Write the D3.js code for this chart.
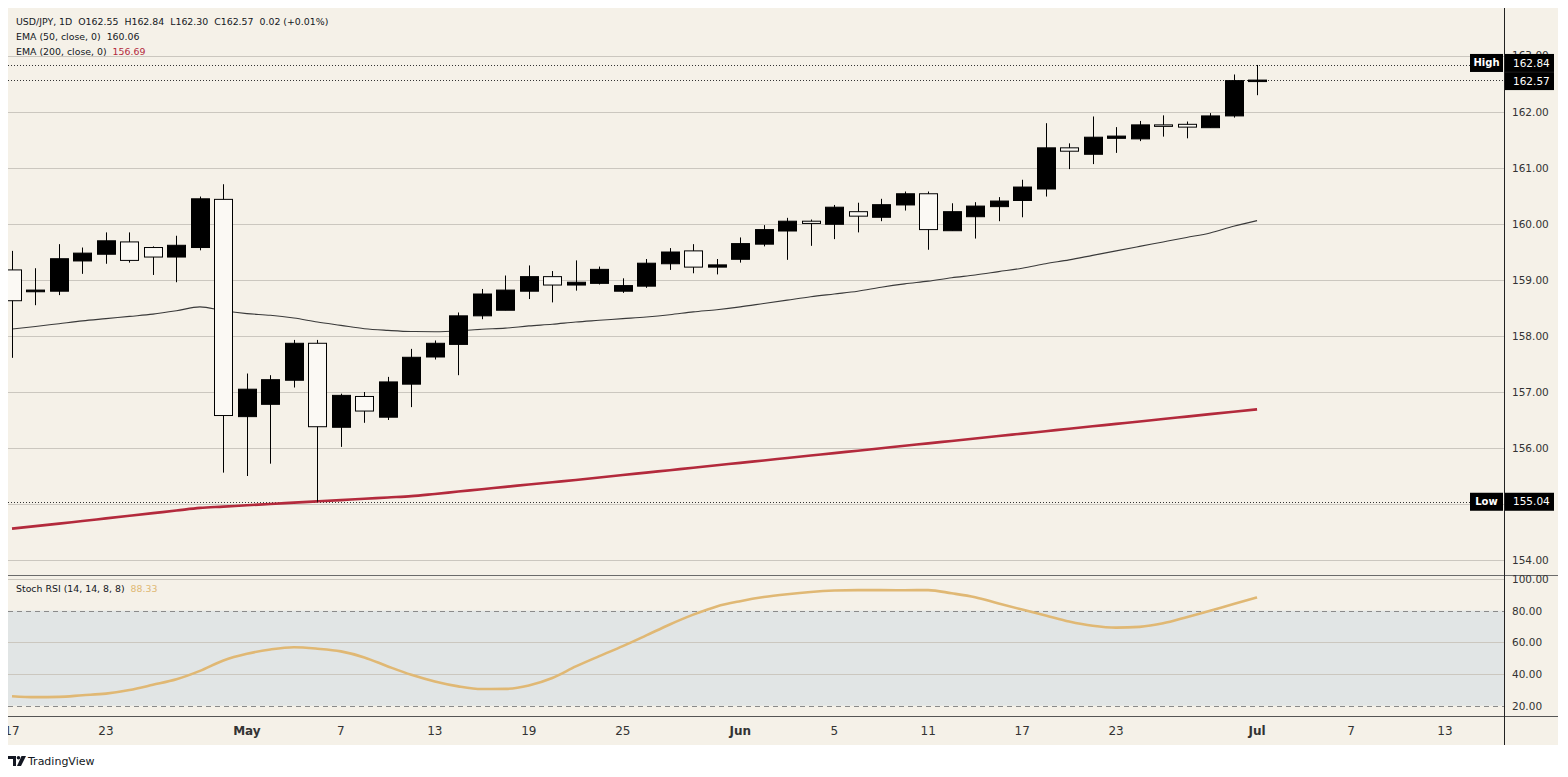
<!DOCTYPE html>
<html>
<head>
<meta charset="utf-8">
<script src="https://cdn.jsdelivr.net/npm/d3@7"></script>
<style>
  body { margin: 0; background: #fff; }
  svg { display: block; font-family: "DejaVu Sans", sans-serif; }
</style>
</head>
<body>
<svg id="chart" width="1568" height="777"></svg>
<script>
// 0) Data (one value per daily bar, Apr 17 -> Jul 1)
const opens  = [159.18,158.79,158.80,159.34,159.46,159.68,159.58,159.41,159.58,160.44,
                156.56,156.78,157.21,157.87,156.37,156.92,156.55,157.14,157.625,157.85,
                158.36,158.46,158.80,159.06,158.91,158.94,158.80,158.89,159.29,159.52,
                159.23,159.37,159.64,159.875,160.05,159.995,160.22,160.12,160.34,160.54,
                159.88,160.13,160.31,160.42,160.625,161.36,161.245,161.53,161.52,161.77,
                161.78,161.72,161.93,162.55];
const highs  = [159.52,159.21,159.64,159.58,159.85,159.85,159.60,159.79,160.49,160.71,
                157.33,157.30,157.93,157.93,156.97,157.00,157.27,157.77,157.92,158.42,
                158.84,159.08,159.26,159.16,159.35,159.24,159.03,159.375,159.57,159.64,
                159.375,159.76,159.98,160.11,160.08,160.34,160.38,160.45,160.58,160.58,
                160.37,160.39,160.48,160.79,161.80,161.44,161.92,161.73,161.84,161.94,
                161.83,161.98,162.67,162.84];
const lows   = [157.61,158.55,158.73,159.11,159.29,159.31,159.09,158.96,159.53,155.56,
                155.50,155.72,157.08,155.04,156.02,156.45,156.50,156.73,157.58,157.30,
                158.30,158.46,158.66,158.60,158.81,158.92,158.77,158.86,159.18,159.12,
                159.10,159.31,159.60,159.36,159.61,159.73,159.85,160.05,160.24,159.54,
                159.88,159.74,160.05,160.12,160.49,160.98,161.07,161.27,161.48,161.56,
                161.53,161.72,161.90,162.30];
const closes = [158.63,158.82,159.38,159.48,159.70,159.35,159.41,159.62,160.45,156.58,
                157.05,157.22,157.87,156.38,156.94,156.66,157.18,157.62,157.87,158.36,
                158.75,158.82,159.06,158.91,158.96,159.19,158.90,159.30,159.50,159.23,
                159.27,159.65,159.90,160.05,160.01,160.30,160.14,160.345,160.54,159.90,
                160.22,160.32,160.41,160.66,161.36,161.30,161.55,161.57,161.77,161.76,
                161.73,161.93,162.56,162.57];

const ema50  = [158.125,158.17,158.22,158.27,158.31,158.35,158.39,158.45,158.52,158.45,
                158.40,158.37,158.32,158.25,158.19,158.13,158.10,158.08,158.077,158.09,
                158.12,158.14,158.18,158.21,158.25,158.28,158.31,158.34,158.38,158.43,
                158.47,158.52,158.58,158.64,158.70,158.75,158.80,158.87,158.93,158.98,
                159.04,159.09,159.15,159.21,159.29,159.36,159.44,159.52,159.60,159.68,
                159.76,159.84,159.96,160.06];
const ema200 = [154.56,154.605,154.65,154.697,154.743,154.79,154.837,154.883,154.93,154.953,
                154.977,155.000,155.024,155.047,155.070,155.093,155.117,155.140,155.180,155.222,
                155.264,155.306,155.348,155.389,155.430,155.474,155.517,155.561,155.604,155.648,
                155.691,155.735,155.778,155.822,155.865,155.909,155.952,155.996,156.039,156.083,
                156.126,156.170,156.213,156.257,156.300,156.344,156.387,156.431,156.474,156.518,
                156.561,156.605,156.648,156.69];
const stochRsi = [26.0,25.4,25.6,26.6,27.6,29.9,33.2,36.7,42.0,48.6,
                  52.8,55.5,56.9,56.0,54.3,50.5,44.8,39.5,35.3,32.2,
                  30.5,30.6,32.8,37.5,44.8,51.3,57.6,64.4,71.3,77.5,
                  82.7,86.0,88.6,90.4,91.8,92.7,93.0,93.0,92.9,93.0,
                  91.0,88.5,84.5,80.7,77.0,73.2,70.5,69.3,69.8,72.0,
                  75.9,80.0,84.2,88.33];

// x axis: bar index of each label
const tickIndex  = [0, 4, 10, 14, 18, 22, 26, 31, 35, 39, 43, 47, 53, 57, 61];
const tickLabels = ['17','23','May','7','13','19','25','Jun','5','11','17','23','Jul','7','13'];
const monthLabels = ['May', 'Jun', 'Jul'];

const priceTicks = d3.range(154, 164);
const stochTicks = [100, 80, 60, 40, 20];

const bars = opens.map((o, i) => ({ i, o, h: highs[i], l: lows[i], c: closes[i] }));

// 1) Layout
const plotL = 8, plotR = 1504, bgR = 1558;
const priceTop = 8, priceBot = 575;
const stochTop = 577, stochBot = 716;

const cream = '#f5f1e8', grid = '#cbc7bf', ink = '#131722';

const svg = d3.select('#chart');

const x = d3.scaleLinear().domain([0, 61]).range([12, 1445]);
const y = d3.scaleLinear().domain([154, 163]).range([560, 56]);
const ys = d3.scaleLinear().domain([20, 100]).range([705.7, 579]);
const bodyW = 18;

// background
svg.append('rect').attr('x', plotL).attr('y', priceTop)
  .attr('width', bgR - plotL).attr('height', 745 - priceTop).attr('fill', cream);

// clip paths
const defs = svg.append('defs');
defs.append('clipPath').attr('id', 'clipPrice').append('rect')
  .attr('x', plotL).attr('y', priceTop).attr('width', plotR - plotL).attr('height', priceBot - priceTop);
defs.append('clipPath').attr('id', 'clipStoch').append('rect')
  .attr('x', plotL).attr('y', stochTop).attr('width', plotR - plotL).attr('height', stochBot - stochTop);
// the 163.00 label is mostly hidden behind the High tag, only its top shows
defs.append('clipPath').attr('id', 'clipTop').append('rect')
  .attr('x', plotR).attr('y', 0).attr('width', 60).attr('height', 54);

// 2) Price pane
const pg = svg.append('g').attr('clip-path', 'url(#clipPrice)');

pg.append('g')
  .selectAll('line')
  .data(priceTicks)
  .join('line')
    .attr('x1', plotL).attr('x2', plotR)
    .attr('y1', d => Math.round(y(d)) + 0.5).attr('y2', d => Math.round(y(d)) + 0.5)
    .attr('stroke', grid).attr('stroke-width', 1);

// dotted high / close / low lines
const dotted = [d3.max(highs), closes[closes.length - 1], d3.min(lows)];
pg.append('g')
  .selectAll('line')
  .data(dotted)
  .join('line')
    .attr('x1', plotL).attr('x2', plotR)
    .attr('y1', d => Math.round(y(d)) + 0.5).attr('y2', d => Math.round(y(d)) + 0.5)
    .attr('stroke', '#333').attr('stroke-width', 1).attr('stroke-dasharray', '1,2');

// EMA lines
const lineGen = d3.line().curve(d3.curveMonotoneX).x((d, i) => x(i)).y(d => y(d));
pg.append('path').datum(ema200)
  .attr('fill', 'none').attr('stroke', '#b32a3c').attr('stroke-width', 2.6).attr('d', lineGen);
pg.append('path').datum(ema50)
  .attr('fill', 'none').attr('stroke', '#3a3a3a').attr('stroke-width', 1.1).attr('d', lineGen);

// candles
const cg = pg.append('g');
cg.selectAll('line')
  .data(bars)
  .join('line')
    .attr('x1', d => Math.round(x(d.i)) + 0.5).attr('x2', d => Math.round(x(d.i)) + 0.5)
    .attr('y1', d => y(d.h)).attr('y2', d => y(d.l))
    .attr('stroke', '#000').attr('stroke-width', 1);
cg.selectAll('rect')
  .data(bars)
  .join('rect')
    .attr('x', d => Math.round(x(d.i)) - bodyW / 2 + 0.5)
    .attr('y', d => y(Math.max(d.o, d.c)))
    .attr('width', bodyW)
    .attr('height', d => Math.max(1.5, Math.abs(y(d.o) - y(d.c))))
    .attr('fill', d => d.c >= d.o ? '#000' : '#fbf9f4')
    .attr('stroke', '#000').attr('stroke-width', 1);

// 3) Stoch RSI pane
const sg = svg.append('g').attr('clip-path', 'url(#clipStoch)');
sg.append('rect')
  .attr('x', plotL).attr('width', plotR - plotL)
  .attr('y', ys(80)).attr('height', ys(20) - ys(80))
  .attr('fill', '#e1e5e5');
sg.append('g')
  .selectAll('line')
  .data(stochTicks)
  .join('line')
    .attr('x1', plotL).attr('x2', plotR)
    .attr('y1', d => Math.round(ys(d)) + 0.5).attr('y2', d => Math.round(ys(d)) + 0.5)
    .attr('stroke', d => (d === 80 || d === 20) ? '#8a8a8a' : grid)
    .attr('stroke-dasharray', d => (d === 80 || d === 20) ? '5,4' : null);
sg.append('path').datum(stochRsi)
  .attr('fill', 'none').attr('stroke', '#e0b874').attr('stroke-width', 2.6)
  .attr('d', d3.line().curve(d3.curveMonotoneX).x((d, i) => x(i)).y(d => ys(d)));

// pane separators and right border
svg.append('line').attr('x1', plotL).attr('x2', bgR).attr('y1', 575.5).attr('y2', 575.5)
  .attr('stroke', '#6b6b6b');
svg.append('line').attr('x1', plotL).attr('x2', bgR).attr('y1', 716.5).attr('y2', 716.5)
  .attr('stroke', '#555');
svg.append('line').attr('x1', plotR + 0.5).attr('x2', plotR + 0.5).attr('y1', priceTop).attr('y2', 745)
  .attr('stroke', '#222');

// 4) Right axes
const priceAxis = svg.append('g')
  .attr('transform', `translate(${plotR},0)`)
  .call(d3.axisRight(y).tickValues(priceTicks).tickFormat(d3.format('.2f')).tickSize(0).tickPadding(8));
const stochAxis = svg.append('g')
  .attr('transform', `translate(${plotR},0)`)
  .call(d3.axisRight(ys).tickValues(stochTicks).tickFormat(d3.format('.2f')).tickSize(0).tickPadding(8));
[priceAxis, stochAxis].forEach(a => {
  a.select('.domain').remove();
  a.selectAll('text').attr('fill', '#333').style('font-family', '"DejaVu Sans", sans-serif').style('font-size', '10.5px');
});
priceAxis.selectAll('.tick').filter(d => d === 155).remove();
priceAxis.selectAll('.tick').filter(d => d === 163)
  .attr('clip-path', null)
  .select('text').attr('transform', null);
svg.append('g').attr('clip-path', 'url(#clipTop)')
  .node().appendChild(priceAxis.selectAll('.tick').filter(d => d === 163)
    .attr('transform', `translate(${plotR},${y(163)})`).node());

// price labels (value boxes + High / Low tags)
const tags = [
  { name: 'High', v: d3.max(highs), cy: y(d3.max(highs)) - 2 },
  { name: null,   v: closes[closes.length - 1], cy: y(closes[closes.length - 1]) + 1 },
  { name: 'Low',  v: d3.min(lows), cy: y(d3.min(lows)) }
];
tags.forEach(t => {
  svg.append('rect').attr('x', plotR + 1).attr('y', t.cy - 9).attr('width', 49).attr('height', 18).attr('fill', '#000');
  svg.append('text').attr('x', plotR + 9).attr('y', t.cy).attr('dy', '0.35em')
    .attr('fill', '#fff').style('font-size', '10.5px').text(t.v.toFixed(2));
  if (t.name) {
    svg.append('rect').attr('x', plotR - 34).attr('y', t.cy - 9).attr('width', 33).attr('height', 18).attr('fill', '#000');
    svg.append('text').attr('x', plotR - 17.5).attr('y', t.cy).attr('dy', '0.35em').attr('text-anchor', 'middle')
      .attr('fill', '#fff').style('font-size', '10px').style('font-weight', 'bold').text(t.name);
  }
});

// 5) Bottom time axis
svg.append('g')
  .selectAll('text')
  .data(tickIndex)
  .join('text')
    .attr('x', d => x(d))
    .attr('y', 735)
    .attr('text-anchor', 'middle')
    .attr('fill', '#333')
    .style('font-family', '"Liberation Sans Narrow", "DejaVu Sans", sans-serif')
    .style('font-size', '12px')
    .style('font-weight', (d, i) => monthLabels.includes(tickLabels[i]) ? 'bold' : 'normal')
    .text((d, i) => tickLabels[i]);
// cover the clipped part of the first label
svg.append('rect').attr('x', 0).attr('y', 717).attr('width', plotL).attr('height', 30).attr('fill', '#fff');

// 6) Legends
const legend = svg.append('g').style('font-size', '9.4px').attr('fill', ink);
legend.append('text').attr('x', 16).attr('y', 25).attr('xml:space', 'preserve')
  .text('USD/JPY, 1D  O162.55  H162.84  L162.30  C162.57  0.02 (+0.01%)');
const l2 = legend.append('text').attr('x', 16).attr('y', 40).attr('xml:space', 'preserve');
l2.append('tspan').text('EMA (50, close, 0)  ');
l2.append('tspan').text(ema50[ema50.length - 1].toFixed(2));
const l3 = legend.append('text').attr('x', 16).attr('y', 55).attr('xml:space', 'preserve');
l3.append('tspan').text('EMA (200, close, 0)  ');
l3.append('tspan').attr('fill', '#b32a3c').text(ema200[ema200.length - 1].toFixed(2));
const l4 = legend.append('text').attr('x', 16).attr('y', 592).attr('xml:space', 'preserve');
l4.append('tspan').text('Stoch RSI (14, 14, 8, 8)  ');
l4.append('tspan').attr('fill', '#e0b874').text(stochRsi[stochRsi.length - 1].toFixed(2));

// 7) TradingView mark
const logo = svg.append('g').attr('transform', 'translate(8,756)');
logo.append('path').attr('d', 'M0,0 H8 V10 H5 V3 H0 Z').attr('fill', '#131722');
logo.append('circle').attr('cx', 10.5).attr('cy', 1.8).attr('r', 1.8).attr('fill', '#131722');
logo.append('path').attr('d', 'M13.5,0 H18 L13,10 H9 Z').attr('fill', '#131722');
svg.append('text').attr('x', 28).attr('y', 765).attr('fill', '#131722')
  .style('font-size', '11px').text('TradingView');
</script>
</body>
</html>
